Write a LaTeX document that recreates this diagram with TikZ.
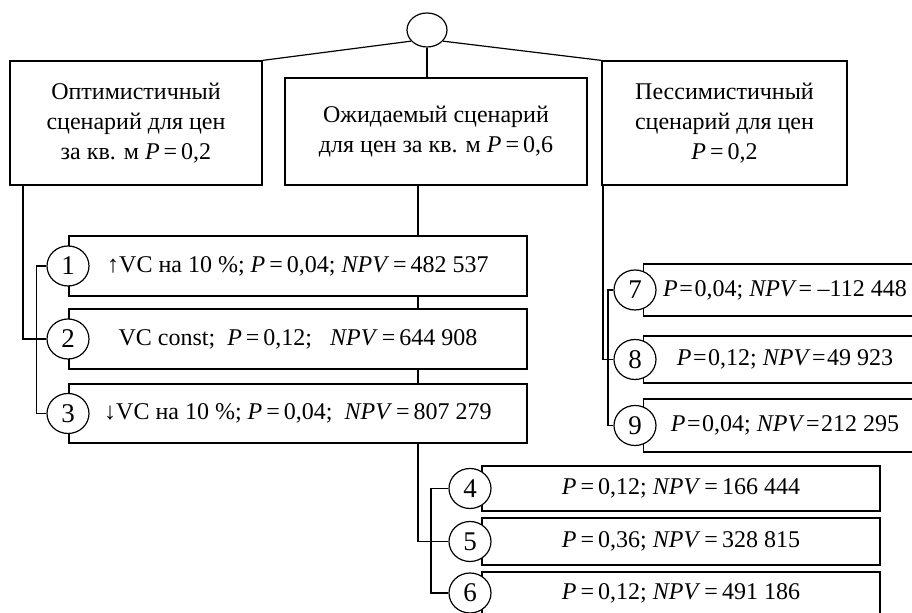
\documentclass[tikz,border=0pt]{standalone}
\usepackage{fontspec}
\setmainfont{Liberation Serif}
\usetikzlibrary{shapes.geometric}
\pgfdeclarelayer{bg}
\pgfsetlayers{bg,main}
\newcommand\tq{\hspace{0.8pt}=\hspace{0.8pt}}
\begin{document}
\begin{tikzpicture}[x=0.5pt,y=-0.5pt,
  every node/.style={font=\fontsize{12}{15}\selectfont},
  box/.style={draw, fill=white, line width=0.6pt, inner sep=0pt, align=center},
  num/.style={draw, fill=white, ellipse, minimum width=21pt, minimum height=20pt, inner sep=0pt, line width=0.6pt, font=\fontsize{13.5}{15}\selectfont},
  conn/.style={line width=0.6pt}]
\useasboundingbox (0,0) rectangle (912,613);
\clip (0,0) rectangle (912,613);
% root
\node[ellipse, draw, minimum width=20pt, minimum height=17pt, inner sep=0pt, line width=0.6pt] (root) at (427,30) {};
% scenario boxes
\node[box, minimum width=126pt, minimum height=62pt] (L) at (136,123) {Оптимистичный\\сценарий для цен\\за кв. м \textit{P}\,=\,0,2};
\node[box, minimum width=151pt, minimum height=53.5pt] (M) at (436,131.5) {Ожидаемый сценарий\\для цен за кв. м \textit{P}\,=\,0,6};
\node[box, minimum width=122.5pt, minimum height=62pt] (R) at (724.5,123) {Пессимистичный\\сценарий для цен\\\textit{P}\,=\,0,2};
% outcome boxes 1-3
\node[box, minimum width=229pt, minimum height=30pt] (b1) at (298,266) {↑VC на 10 \%; \textit{P}\,=\,0,04; \textit{NPV}\,=\,482 537};
\node[box, minimum width=229pt, minimum height=30pt] (b2) at (298,339) {VC const;\ \ \textit{P}\,=\,0,12;\ \ \ \textit{NPV}\,=\,644 908};
\node[box, minimum width=229pt, minimum height=29.5pt] (b3) at (298,413.5) {↓VC на 10 \%; \textit{P}\,=\,0,04;\ \ \textit{NPV}\,=\,807 279};
% outcome boxes 4-6
\node[box, minimum width=199pt, minimum height=22.5pt] (b4) at (681,488.5) {\textit{P}\,=\,0,12; \textit{NPV}\,=\,166 444};
\node[box, minimum width=199pt, minimum height=23.5pt] (b5) at (681,541.5) {\textit{P}\,=\,0,36; \textit{NPV}\,=\,328 815};
\node[box, minimum width=199pt, minimum height=21pt] (b6) at (681,593) {\textit{P}\,=\,0,12; \textit{NPV}\,=\,491 186};
% outcome boxes 7-9
\node[box, minimum width=141.5pt, minimum height=26pt] (b7) at (785,290) {\textit{P}\tq0,04; \textit{NPV}\tq\,–112 448};
\node[box, minimum width=141.5pt, minimum height=23.5pt] (b8) at (785,359.5) {\textit{P}\tq0,12; \textit{NPV}\tq49 923};
\node[box, minimum width=141.5pt, minimum height=26.5pt] (b9) at (785,425.5) {\textit{P}\tq0,04; \textit{NPV}\tq212 295};
% numbered circles
\node[num] (c1) at (68,266) {1};
\node[num] (c2) at (68,339) {2};
\node[num] (c3) at (68,413.5) {3};
\node[num] (c4) at (470,488.5) {4};
\node[num] (c5) at (470,541.5) {5};
\node[num] (c6) at (470,593) {6};
\node[num] (c7) at (635,290) {7};
\node[num] (c8) at (635,359.5) {8};
\node[num] (c9) at (635,425.5) {9};
% connectors
\coordinate (lL) at (23,185);
\coordinate (mB) at (418,185);
\coordinate (rB) at (603,185);
\begin{pgfonlayer}{bg}
\draw[conn] (root.215) -- (L.north east);
\draw[conn] (root.-35) -- (R.north west);
\draw[conn] (root.south) -- (root.south |- M.north);
\draw[conn] (lL) |- (c2.west);
\draw[conn] (c1.west) -- ++(-10,0) |- (c3.west);
\draw[conn] (mB) |- (c5.west);
\draw[conn] (c4.west) -- ++(-17.5,0) |- (c6.west);
\draw[conn] (rB) |- (c8.west);
\draw[conn] (c7.west) -- ++(-5.5,0) |- (c9.west);
\end{pgfonlayer}
\end{tikzpicture}
\end{document}
